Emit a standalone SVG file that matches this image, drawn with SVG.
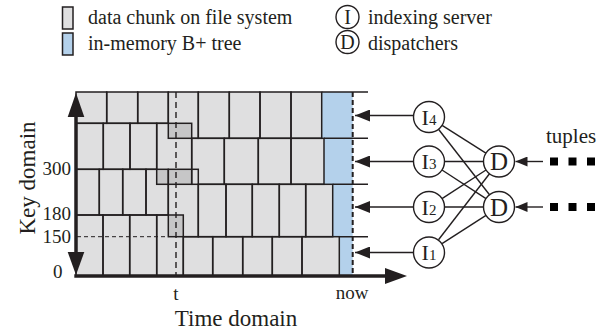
<svg xmlns="http://www.w3.org/2000/svg" width="608" height="332" viewBox="0 0 608 332">
  <style>
    text { font-family: "Liberation Serif", "Times New Roman", serif; fill: #231f20; }
    .key { font-size: 20px; }
    .tick { font-size: 19px; }
    .title { font-size: 23px; }
    .chunk { fill: #dfdfe0; }
    .over { fill: #c6c6c7; }
    .mem { fill: #b4d1eb; }
    .edge { fill: none; stroke: #231f20; stroke-width: 1.5; }
    .node { fill: #ffffff; stroke: #231f20; stroke-width: 1.4; }
    .wire { stroke: #231f20; stroke-width: 1.4; fill: none; }
    .ni { font-size: 22px; text-anchor: middle; }
    .nd { font-size: 25px; text-anchor: middle; }
    .sq { fill: #000000; }
  </style>
  <defs>
    <marker id="head" viewBox="0 0 15 12" refX="15" refY="6" markerWidth="15" markerHeight="12" markerUnits="userSpaceOnUse" orient="auto">
      <path d="M0,0 L15,6 L0,12 Z" fill="#231f20"/>
    </marker>
    <marker id="headSmall" viewBox="0 0 12 10" refX="12" refY="5" markerWidth="12" markerHeight="10" markerUnits="userSpaceOnUse" orient="auto">
      <path d="M0,0 L12,5 L0,10 Z" fill="#231f20"/>
    </marker>
  </defs>

  <!-- legend -->
  <g id="legend">
    <rect x="62.5" y="7" width="10.5" height="22" class="chunk" stroke="#231f20" stroke-width="1.5"/>
    <text class="key" x="88" y="24">data chunk on file system</text>
    <rect x="62.5" y="33" width="10.5" height="22" class="mem" stroke="#231f20" stroke-width="1.5"/>
    <text class="key" x="88" y="50">in-memory B+ tree</text>
    <circle cx="347.5" cy="17" r="11.5" class="node"/>
    <text class="key" x="347.5" y="24" text-anchor="middle">I</text>
    <text class="key" x="368" y="24">indexing server</text>
    <circle cx="347.5" cy="42" r="11.5" class="node"/>
    <text class="key" x="347.5" y="49" text-anchor="middle">D</text>
    <text class="key" x="368" y="50">dispatchers</text>
  </g>

  <!-- chunk grid: fills -->
  <g id="chunks">
    <!-- row 1 -->
    <rect class="chunk" x="76" y="92" width="92.3" height="31.3"/>
    <rect class="chunk" x="168.3" y="92" width="153.4" height="46.3"/>
    <rect class="mem" x="321.7" y="92" width="31" height="46.3"/>
    <!-- row 2 -->
    <rect class="chunk" x="76" y="123.3" width="80.7" height="46"/>
    <rect class="chunk" x="156.7" y="123.3" width="35" height="61"/>
    <rect class="chunk" x="191.7" y="138.3" width="132.3" height="46"/>
    <rect class="mem" x="324" y="138.3" width="28.7" height="46"/>
    <!-- row 3 -->
    <rect class="chunk" x="76" y="169.3" width="92.3" height="45.7"/>
    <rect class="chunk" x="168.3" y="169.3" width="30" height="67.4"/>
    <rect class="chunk" x="198.3" y="184.3" width="134.4" height="52.4"/>
    <rect class="mem" x="332.7" y="184.3" width="20" height="52.4"/>
    <!-- row 4 -->
    <rect class="chunk" x="76" y="215" width="107.3" height="61"/>
    <rect class="chunk" x="183.3" y="236.7" width="156" height="39.3"/>
    <rect class="mem" x="339.3" y="236.7" width="13.4" height="39.3"/>
    <!-- overlapping parts of neighbouring chunks -->
    <rect class="over" x="168.3" y="123.3" width="23.4" height="15"/>
    <rect class="over" x="156.7" y="169.3" width="35" height="15"/>
    <rect class="over" x="168.3" y="215" width="15" height="21.7"/>
  </g>

  <!-- chunk grid: outlines -->
  <g id="chunk-edges" class="edge">
    <!-- row 1 -->
    <rect x="76" y="92" width="30.7" height="31.3"/>
    <rect x="106.7" y="92" width="31" height="31.3"/>
    <rect x="137.7" y="92" width="30.6" height="31.3"/>
    <rect x="168.3" y="92" width="30" height="46.3"/>
    <rect x="198.3" y="92" width="31" height="46.3"/>
    <rect x="229.3" y="92" width="30.7" height="46.3"/>
    <rect x="260" y="92" width="31" height="46.3"/>
    <rect x="291" y="92" width="30.7" height="46.3"/>
    <!-- row 2 -->
    <rect x="76" y="123.3" width="27.3" height="46"/>
    <rect x="103.3" y="123.3" width="26.7" height="46"/>
    <rect x="130" y="123.3" width="26.7" height="46"/>
    <rect x="156.7" y="123.3" width="35" height="61"/>
    <rect x="191.7" y="138.3" width="32.6" height="46"/>
    <rect x="224.3" y="138.3" width="34" height="46"/>
    <rect x="258.3" y="138.3" width="32.7" height="46"/>
    <rect x="291" y="138.3" width="33" height="46"/>
    <!-- row 3 -->
    <rect x="76" y="169.3" width="23.3" height="45.7"/>
    <rect x="99.3" y="169.3" width="23.4" height="45.7"/>
    <rect x="122.7" y="169.3" width="23.3" height="45.7"/>
    <rect x="146" y="169.3" width="22.3" height="45.7"/>
    <rect x="168.3" y="169.3" width="30" height="67.4"/>
    <rect x="198.3" y="184.3" width="27.7" height="52.4"/>
    <rect x="226" y="184.3" width="26.3" height="52.4"/>
    <rect x="252.3" y="184.3" width="27" height="52.4"/>
    <rect x="279.3" y="184.3" width="26.4" height="52.4"/>
    <rect x="305.7" y="184.3" width="27" height="52.4"/>
    <!-- row 4 -->
    <rect x="76" y="215" width="27" height="61"/>
    <rect x="103" y="215" width="26.7" height="61"/>
    <rect x="129.7" y="215" width="27" height="61"/>
    <rect x="156.7" y="215" width="26.6" height="61"/>
    <rect x="183.3" y="236.7" width="29.4" height="39.3"/>
    <rect x="212.7" y="236.7" width="30" height="39.3"/>
    <rect x="242.7" y="236.7" width="29.6" height="39.3"/>
    <rect x="272.3" y="236.7" width="29.7" height="39.3"/>
    <rect x="302" y="236.7" width="37.3" height="39.3"/>
    <!-- row lines running past the in-memory column -->
    <path d="M321.7,92 H368 M324,138.3 H368 M332.7,184.3 H368 M339.3,236.7 H368"/>
  </g>

  <!-- time marks -->
  <g id="marks">
    <line x1="176" y1="92" x2="176" y2="276" stroke="#231f20" stroke-width="1.4" stroke-dasharray="6,4"/>
    <line x1="77" y1="236.7" x2="168.3" y2="236.7" stroke="#231f20" stroke-width="1" stroke-dasharray="4,3"/>
    <line x1="352.7" y1="92" x2="352.7" y2="276" stroke="#231f20" stroke-width="2" stroke-dasharray="5,3"/>
  </g>

  <!-- axes -->
  <g id="axes">
    <line x1="76" y1="110" x2="76" y2="258" stroke="#231f20" stroke-width="3.5"/>
    <path d="M76,93 L84.3,117 L67.7,117 Z" fill="#231f20"/>
    <path d="M76,275 L84.3,252 L67.7,252 Z" fill="#231f20"/>
    <line x1="74.3" y1="276" x2="390" y2="276" stroke="#231f20" stroke-width="3.5"/>
    <path d="M407,276 L385,268 L385,284 Z" fill="#231f20"/>
    <text class="tick" x="71" y="175" text-anchor="end">300</text>
    <text class="tick" x="71" y="220" text-anchor="end">180</text>
    <text class="tick" x="71" y="243" text-anchor="end">150</text>
    <text class="tick" x="53" y="278">0</text>
    <text class="tick" x="176" y="300" text-anchor="middle">t</text>
    <text class="tick" x="352" y="299" text-anchor="middle">now</text>
    <text class="title" x="236" y="326" text-anchor="middle">Time domain</text>
    <text class="title" transform="translate(35,178) rotate(-90)" text-anchor="middle">Key domain</text>
  </g>

  <!-- connectors -->
  <g id="connectors" class="wire">
    <line x1="413.5" y1="115.5" x2="355" y2="115.5" marker-end="url(#head)"/>
    <line x1="413.5" y1="161.5" x2="355" y2="161.5" marker-end="url(#head)"/>
    <line x1="413.5" y1="207" x2="355" y2="207" marker-end="url(#head)"/>
    <line x1="413.5" y1="252.5" x2="355" y2="252.5" marker-end="url(#head)"/>
    <line x1="442.1" y1="125.3" x2="485.9" y2="153.2"/>
    <line x1="438.5" y1="129.2" x2="489.5" y2="194.8"/>
    <line x1="444.5" y1="161.5" x2="483.5" y2="161.5"/>
    <line x1="442" y1="170" x2="486" y2="198.6"/>
    <line x1="442" y1="198.6" x2="486" y2="170"/>
    <line x1="444.5" y1="207" x2="483.5" y2="207"/>
    <line x1="438.5" y1="239.7" x2="489.5" y2="173.8"/>
    <line x1="442" y1="243.6" x2="486" y2="215.4"/>
    <line x1="543" y1="161.5" x2="515.5" y2="161.5" marker-end="url(#headSmall)"/>
    <line x1="543" y1="207" x2="515.5" y2="207" marker-end="url(#headSmall)"/>
  </g>

  <!-- indexing servers -->
  <g id="I4">
    <circle cx="429" cy="117" r="15.5" class="node"/>
    <text class="ni" x="429" y="124.5">I<tspan font-size="15">4</tspan></text>
  </g>
  <g id="I3">
    <circle cx="429" cy="161.5" r="15.5" class="node"/>
    <text class="ni" x="429" y="169">I<tspan font-size="15">3</tspan></text>
  </g>
  <g id="I2">
    <circle cx="429" cy="207" r="15.5" class="node"/>
    <text class="ni" x="429" y="214.5">I<tspan font-size="15">2</tspan></text>
  </g>
  <g id="I1">
    <circle cx="429" cy="252.5" r="15.5" class="node"/>
    <text class="ni" x="429" y="260">I<tspan font-size="15">1</tspan></text>
  </g>

  <!-- dispatchers -->
  <g id="D1">
    <circle cx="499" cy="161.5" r="15.5" class="node"/>
    <text class="nd" x="499" y="170">D</text>
  </g>
  <g id="D2">
    <circle cx="499" cy="207" r="15.5" class="node"/>
    <text class="nd" x="499" y="215.5">D</text>
  </g>

  <!-- incoming tuple streams -->
  <g id="tuples">
    <text x="546" y="143" font-size="21">tuples</text>
    <rect class="sq" x="550" y="157.5" width="8" height="8"/>
    <rect class="sq" x="568.5" y="157.5" width="8" height="8"/>
    <rect class="sq" x="587" y="157.5" width="8" height="8"/>
    <rect class="sq" x="550" y="203" width="8" height="8"/>
    <rect class="sq" x="568.5" y="203" width="8" height="8"/>
    <rect class="sq" x="587" y="203" width="8" height="8"/>
  </g>
</svg>
